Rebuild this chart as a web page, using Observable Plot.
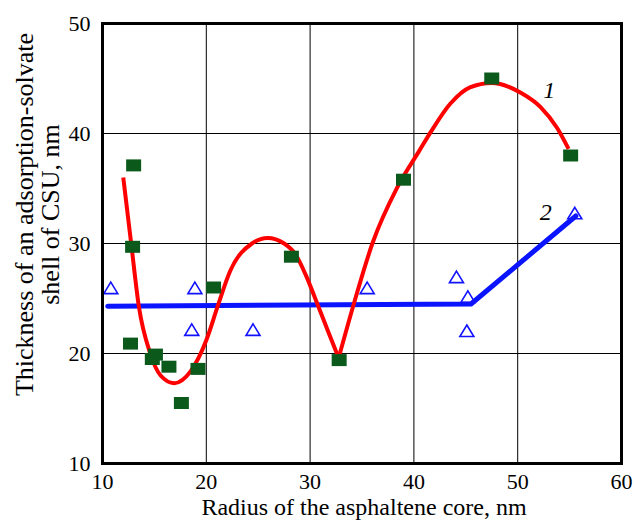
<!DOCTYPE html>
<html>
<head>
<meta charset="utf-8">
<script src="https://cdn.jsdelivr.net/npm/d3@7"></script>
<script src="https://cdn.jsdelivr.net/npm/@observablehq/plot@0.6"></script>
<style>
  html, body { margin: 0; padding: 0; background: #fff; }
</style>
</head>
<body>
<div id="chart"></div>
<script>
// ---- data ----
const xTicks = [10, 20, 30, 40, 50, 60];
const yTicks = [10, 20, 30, 40, 50];

// series 1: green squares
const sqX = [13.0, 12.9, 12.7, 14.8, 15.1, 16.4, 17.6, 19.2, 20.7, 28.2, 32.8, 39.0, 47.5, 55.1];
const sqY = [37.1, 29.7, 20.9, 19.5, 19.9, 18.8, 15.5, 18.6, 26.0, 28.8, 19.4, 35.8, 45.0, 38.0];

// series 2: blue triangles
const trX = [10.8, 18.9, 18.6, 24.5, 35.5, 44.1, 45.2, 45.1, 55.5];
const trY = [25.9, 25.9, 22.1, 22.1, 25.9, 26.9, 25.1, 22.0, 32.7];

// curve 1 (red), two smooth branches meeting at the sharp minimum
const c1aX = [12.0, 12.8, 13.5, 14.6, 15.6, 16.9, 18.5, 20.0, 21.1, 22.3, 24.4, 25.9, 27.5, 28.6, 29.6, 30.7, 31.7, 32.75];
const c1aY = [36.0, 29.7, 24.3, 20.0, 18.0, 17.3, 18.4, 21.2, 24.3, 27.5, 30.0, 30.5, 30.0, 29.0, 27.1, 24.5, 22.1, 19.6];
const c1bX = [32.75, 34.3, 36.0, 38.4, 40.5, 41.6, 43.5, 45.4, 47.5, 48.3, 50.3, 52.2, 53.8, 54.9];
const c1bY = [19.6, 24.8, 30.0, 35.1, 38.4, 40.1, 42.7, 44.2, 44.6, 44.5, 43.7, 42.4, 40.5, 38.6];

// curve 2 (blue)
const c2X = [10.5, 45.5, 55.6];
const c2Y = [24.3, 24.5, 32.5];

// curve labels
const lblText = ["1", "2"];
const lblX = [53.05, 52.7];
const lblY = [43.9, 32.8];

const xTitle = ["Radius of the asphaltene core, nm"];
const yTitle = ["Thickness of an adsorption-solvate\nshell of CSU, nm"];

// ---- build tables ----
const squares = sqX.map((x, i) => ({x, y: sqY[i]}));
const triangles = trX.map((x, i) => ({x, y: trY[i]}));
const curve1 = [
  ...c1aX.map((x, i) => ({x, y: c1aY[i], seg: "a"})),
  ...c1bX.map((x, i) => ({x, y: c1bY[i], seg: "b"}))
];
const curve2 = c2X.map((x, i) => ({x, y: c2Y[i]}));
const labels = lblText.map((t, i) => ({t, x: lblX[i], y: lblY[i]}));

const rectSymbol = { draw(ctx) { ctx.rect(-7.5, -6, 15, 12); } };
const triSymbol = { draw(ctx) { ctx.moveTo(0, -6.5); ctx.lineTo(7, 5); ctx.lineTo(-7, 5); ctx.closePath(); } };

const chart = Plot.plot({
  width: 637,
  height: 520,
  marginLeft: 102,
  marginRight: 16,
  marginTop: 23,
  marginBottom: 57,
  style: { fontFamily: "'Liberation Serif', 'Times New Roman', serif", fontSize: "22px", background: "#fff", color: "#000" },
  x: { domain: [10, 60] },
  y: { domain: [10, 50] },
  marks: [
    Plot.gridX(xTicks, { stroke: "#000", strokeOpacity: 1, strokeWidth: 1 }),
    Plot.gridY(yTicks, { stroke: "#000", strokeOpacity: 1, strokeWidth: 1 }),
    Plot.line(curve2, { x: "x", y: "y", stroke: "#0a14ff", strokeWidth: 5, strokeLinejoin: "round", strokeLinecap: "round" }),
    Plot.line(curve1, { x: "x", y: "y", z: "seg", stroke: "#ff0000", strokeWidth: 4, curve: "monotone-x", strokeLinecap: "butt" }),
    Plot.dot(squares, { x: "x", y: "y", r: 6, symbol: rectSymbol, fill: "#0b5a1c", stroke: "none" }),
    Plot.dot(triangles, { x: "x", y: "y", r: 6, symbol: triSymbol, fill: "none", stroke: "#1212ff", strokeWidth: 1.6 }),
    Plot.text(labels, { x: "x", y: "y", text: "t", fontStyle: "italic", fontSize: 24, fill: "#000" }),
    Plot.frame({ stroke: "#000", strokeWidth: 3 }),
    Plot.axisX(xTicks, { tickSize: 0, tickPadding: 10, fontSize: 22, label: null, fill: "#000" }),
    Plot.axisY(yTicks, { tickSize: 0, tickPadding: 12, fontSize: 22, label: null, fill: "#000" }),
    Plot.text(xTitle, { frameAnchor: "bottom", lineAnchor: "middle", textAnchor: "middle", dy: 44, dx: 2, fontSize: 24, fill: "#000" }),
    Plot.text(yTitle, { frameAnchor: "left", rotate: -90, textAnchor: "middle", lineAnchor: "middle", dx: -64.5, dy: -29, fontSize: 26, lineHeight: 0.97, fill: "#000" })
  ]
});
document.getElementById("chart").appendChild(chart);
</script>
</body>
</html>
